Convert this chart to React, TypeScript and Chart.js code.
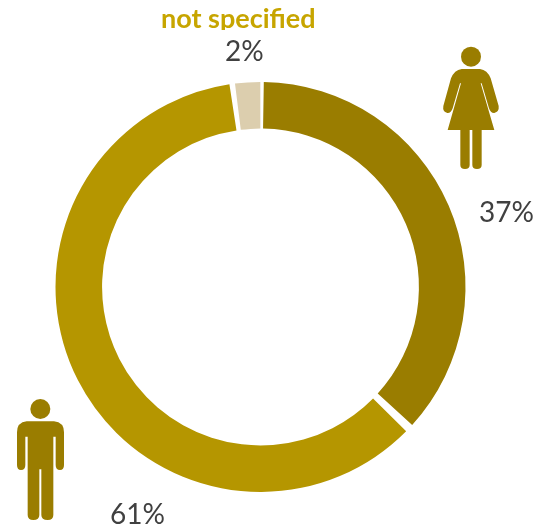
import React, { useEffect, useRef } from "react";
import { Chart, registerables } from "chart.js";

Chart.register(...registerables);

const categories = ["female", "male", "not specified"];
const shares = [37, 61, 2];
const sliceColors = ["#9A7D00", "#B59600", "#DCCEAE"];
const heading = "not specified";
const shareLabels = ["37%", "61%", "2%"];

const INK = "#404040";
const HEADING_GOLD = "#C7A500";
const ICON_GOLD = "#9A7D00";
const FONT = "Lato, 'Open Sans', sans-serif";

const WOMAN =
  "M185 147 L240 147 Q262 150 272 175 L296 258 Q298 275 283 279 Q272 280 267 265 L245 190 L242 190 L283 330 L245 330 L245 435 Q245 447 231 447 Q217 447 217 435 L217 330 L209 330 L209 435 Q209 447 195 447 Q181 447 181 435 L181 330 L143 330 L183 190 L180 190 L158 265 Q153 280 142 279 Q127 275 130 258 L153 175 Q163 150 185 147 Z";
const MAN =
  "M80 124 L162 124 Q192 127 192 157 L192 255 Q192 270 180 270 Q167 270 167 255 L167 170 L160 170 L160 405 Q160 420 143 420 Q124 420 124 405 L124 268 L118 268 L118 405 Q118 420 100 420 Q83 420 83 405 L83 170 L76 170 L76 255 Q76 270 63 270 Q51 270 51 255 L51 157 Q51 127 80 124 Z";

function drawFigure(ctx: CanvasRenderingContext2D, outline: string, ox: number, oy: number, hx: number, hy: number) {
  ctx.save();
  ctx.translate(ox, oy);
  ctx.scale(1 / 3, 1 / 3);
  ctx.fillStyle = ICON_GOLD;
  ctx.fill(new Path2D(outline));
  ctx.beginPath();
  ctx.arc(hx, hy, 30, 0, Math.PI * 2);
  ctx.fill();
  ctx.restore();
}

const annotations = {
  id: "annotations",
  afterDraw(chart: Chart) {
    const ctx = chart.ctx;
    drawFigure(ctx, WOMAN, 400, 20, 213, 110);
    drawFigure(ctx, MAN, 0, 380, 121, 87);

    ctx.save();
    ctx.textAlign = "left";
    ctx.textBaseline = "alphabetic";

    // The heading sits hard against a band that trims its descenders.
    ctx.save();
    ctx.beginPath();
    ctx.rect(0, 0, 547, 30);
    ctx.clip();
    ctx.font = `bold 27px ${FONT}`;
    ctx.fillStyle = HEADING_GOLD;
    ctx.fillText(heading, 161, 28);
    ctx.restore();

    ctx.font = `28px ${FONT}`;
    ctx.fillStyle = INK;
    ctx.fillText(shareLabels[0], 479, 222);
    ctx.fillText(shareLabels[1], 110, 524);
    ctx.fillText(shareLabels[2], 225, 61);
    ctx.restore();
  },
};

export default function App() {
  const ref = useRef<HTMLCanvasElement>(null);

  useEffect(() => {
    const chart = new Chart(ref.current!, {
      type: "doughnut",
      data: {
        labels: categories,
        datasets: [
          {
            data: shares,
            backgroundColor: sliceColors,
            borderWidth: 0,
            spacing: 5,
          },
        ],
      },
      options: {
        responsive: false,
        animation: false,
        cutout: "77%",
        layout: { padding: { left: 55, right: 81, top: 82, bottom: 33 } },
        plugins: { legend: { display: false }, tooltip: { enabled: false } },
      },
      plugins: [annotations],
    });
    return () => chart.destroy();
  }, []);

  return (
    <div style={{ position: "fixed", left: 0, top: 0, width: 547, height: 525, background: "#fff" }}>
      <canvas ref={ref} width={547} height={525} style={{ display: "block" }} />
    </div>
  );
}
